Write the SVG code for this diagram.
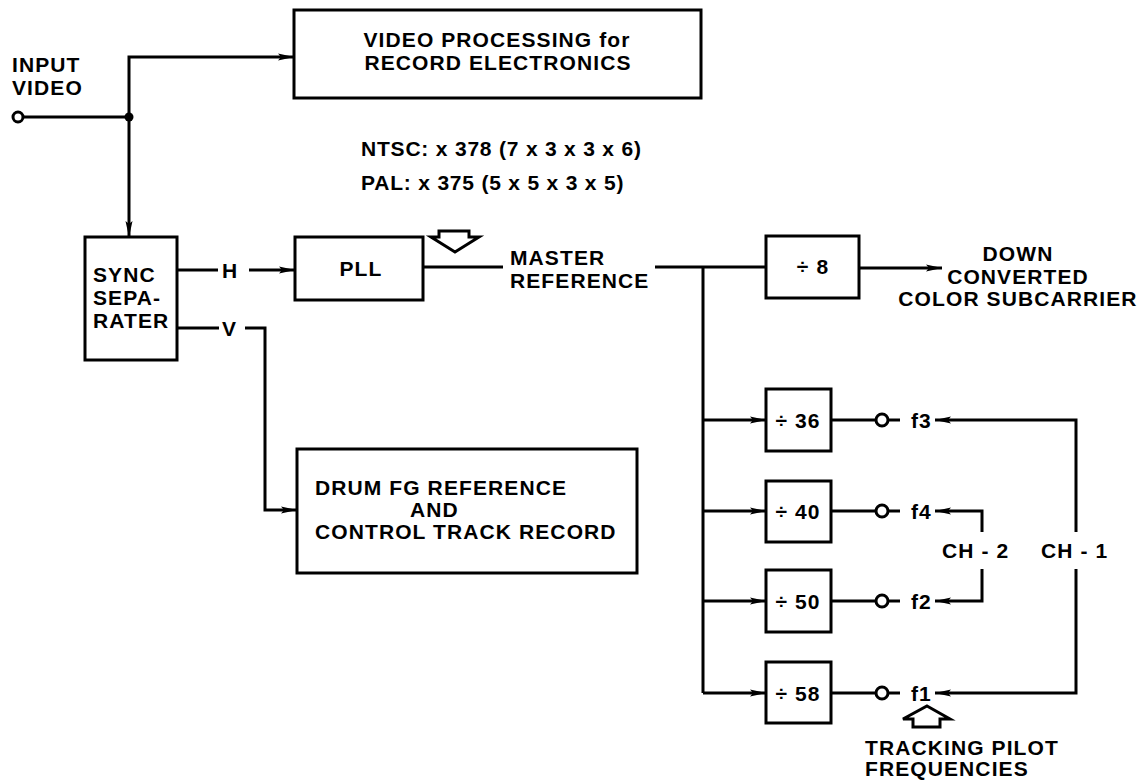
<svg xmlns="http://www.w3.org/2000/svg" width="1147" height="780" viewBox="0 0 1147 780">
<style>
.box{fill:none;stroke:#000;stroke-width:3}
.ln{fill:none;stroke:#000;stroke-width:3}
.ar{fill:none;stroke:#000;stroke-width:3;marker-end:url(#ah)}
.t{font-family:"Liberation Sans",Arial,sans-serif;font-weight:bold;font-size:21px;letter-spacing:1.1px;fill:#000}
.m{text-anchor:middle}
.hol{fill:#fff;stroke:#000;stroke-width:3;stroke-linejoin:miter}
</style>
<defs>
<marker id="ah" markerUnits="userSpaceOnUse" markerWidth="18" markerHeight="10" refX="16" refY="5" orient="auto">
<path d="M0,1.5 L16,5 L0,8.5 L3,5 Z" fill="#000"/>
</marker>
</defs>
<rect width="1147" height="780" fill="#fff"/>

<g id="connectors">
<line class="ln" x1="23" y1="117" x2="129" y2="117"/>
<circle cx="129" cy="117" r="4.5" fill="#000"/>
<polyline class="ar" points="129,117 129,57 294,57"/>
<line class="ar" x1="129" y1="117" x2="129" y2="237"/>
<line class="ln" x1="177" y1="270" x2="218" y2="270"/>
<line class="ar" x1="249" y1="270" x2="295" y2="270"/>
<line class="ln" x1="177" y1="328" x2="219" y2="328"/>
<polyline class="ar" points="245,328 265,328 265,510 297,510"/>
<line class="ln" x1="423" y1="267" x2="503" y2="267"/>
<line class="ln" x1="655" y1="267" x2="767" y2="267"/>
<line class="ln" x1="703" y1="267" x2="703" y2="693"/>
<line class="ar" x1="859" y1="268" x2="942" y2="268"/>
<line class="ar" x1="703" y1="420" x2="766" y2="420"/>
<line class="ar" x1="703" y1="511" x2="766" y2="511"/>
<line class="ar" x1="703" y1="601" x2="766" y2="601"/>
<line class="ar" x1="703" y1="693" x2="766" y2="693"/>
<line class="ln" x1="831" y1="420" x2="876" y2="420"/>
<line class="ln" x1="888" y1="420" x2="900" y2="420"/>
<line class="ln" x1="831" y1="511" x2="876" y2="511"/>
<line class="ln" x1="888" y1="511" x2="900" y2="511"/>
<line class="ln" x1="831" y1="601" x2="876" y2="601"/>
<line class="ln" x1="888" y1="601" x2="900" y2="601"/>
<line class="ln" x1="831" y1="693" x2="876" y2="693"/>
<line class="ln" x1="888" y1="693" x2="900" y2="693"/>
<polyline class="ar" points="1076,532 1076,420 935,420"/>
<polyline class="ar" points="1076,569 1076,693 935,693"/>
<polyline class="ar" points="982,532 982,511 935,511"/>
<polyline class="ar" points="982,569 982,601 935,601"/>
</g>

<g id="input">
<circle cx="18" cy="117" r="5" fill="#fff" stroke="#000" stroke-width="3"/>
<text class="t" x="12" y="72">INPUT</text>
<text class="t" x="12" y="95">VIDEO</text>
</g>

<g id="video-processing">
<rect class="box" x="294" y="10" width="407" height="88"/>
<text class="t m" x="497" y="47">VIDEO PROCESSING for</text>
<text class="t m" x="498" y="70">RECORD ELECTRONICS</text>
</g>

<g id="multiplier-note">
<text class="t" x="361" y="156" style="letter-spacing:0.8px">NTSC: x 378 (7 x 3 x 3 x 6)</text>
<text class="t" x="361" y="190" style="letter-spacing:0.8px">PAL: x 375 (5 x 5 x 3 x 5)</text>
</g>

<g id="sync-separater">
<rect class="box" x="85" y="237" width="92" height="123"/>
<text class="t" x="93" y="282">SYNC</text>
<text class="t" x="93" y="305">SEPA-</text>
<text class="t" x="93" y="328">RATER</text>
</g>

<g id="h-label"><text class="t" x="222" y="278">H</text></g>
<g id="v-label"><text class="t" x="222" y="336">V</text></g>

<g id="pll">
<rect class="box" x="295" y="237" width="128" height="63"/>
<text class="t m" x="361" y="276">PLL</text>
<polygon class="hol" points="439,231 469,231 469,237 479,237 455,252 431,237 439,237"/>
</g>

<g id="master-reference">
<text class="t" x="510" y="265">MASTER</text>
<text class="t" x="510" y="288">REFERENCE</text>
</g>

<g id="div8">
<rect class="box" x="766" y="236" width="93" height="62"/>
<text class="t m" x="813" y="274">÷ 8</text>
</g>

<g id="down-converted">
<text class="t m" x="1018" y="261">DOWN</text>
<text class="t m" x="1018" y="284">CONVERTED</text>
<text class="t m" x="1018" y="306">COLOR SUBCARRIER</text>
</g>

<g id="drum-fg">
<rect class="box" x="297" y="449" width="340" height="124"/>
<text class="t" x="315" y="495">DRUM FG REFERENCE</text>
<text class="t" x="410" y="517">AND</text>
<text class="t" x="315" y="539">CONTROL TRACK RECORD</text>
</g>

<g id="div36">
<rect class="box" x="766" y="389" width="65" height="62"/>
<text class="t m" x="798" y="428">÷ 36</text>
</g>
<g id="div40">
<rect class="box" x="766" y="481" width="65" height="61"/>
<text class="t m" x="798" y="519">÷ 40</text>
</g>
<g id="div50">
<rect class="box" x="766" y="570" width="65" height="62"/>
<text class="t m" x="798" y="609">÷ 50</text>
</g>
<g id="div58">
<rect class="box" x="766" y="662" width="65" height="61"/>
<text class="t m" x="798" y="701">÷ 58</text>
</g>

<g id="pilot-outputs">
<circle cx="882" cy="420" r="6" fill="#fff" stroke="#000" stroke-width="3"/>
<circle cx="882" cy="511" r="6" fill="#fff" stroke="#000" stroke-width="3"/>
<circle cx="882" cy="601" r="6" fill="#fff" stroke="#000" stroke-width="3"/>
<circle cx="882" cy="693" r="6" fill="#fff" stroke="#000" stroke-width="3"/>
<text class="t" x="911" y="428">f3</text>
<text class="t" x="911" y="519">f4</text>
<text class="t" x="911" y="609">f2</text>
<text class="t" x="911" y="701">f1</text>
</g>

<g id="ch2"><text class="t" x="942" y="558">CH - 2</text></g>
<g id="ch1"><text class="t" x="1041" y="558">CH - 1</text></g>

<g id="tracking-pilot">
<polygon class="hol" points="927,706 950,719 940,719 940,727 913,727 913,719 903,719"/>
<text class="t" x="865" y="755">TRACKING PILOT</text>
<text class="t" x="865" y="776">FREQUENCIES</text>
</g>
</svg>
